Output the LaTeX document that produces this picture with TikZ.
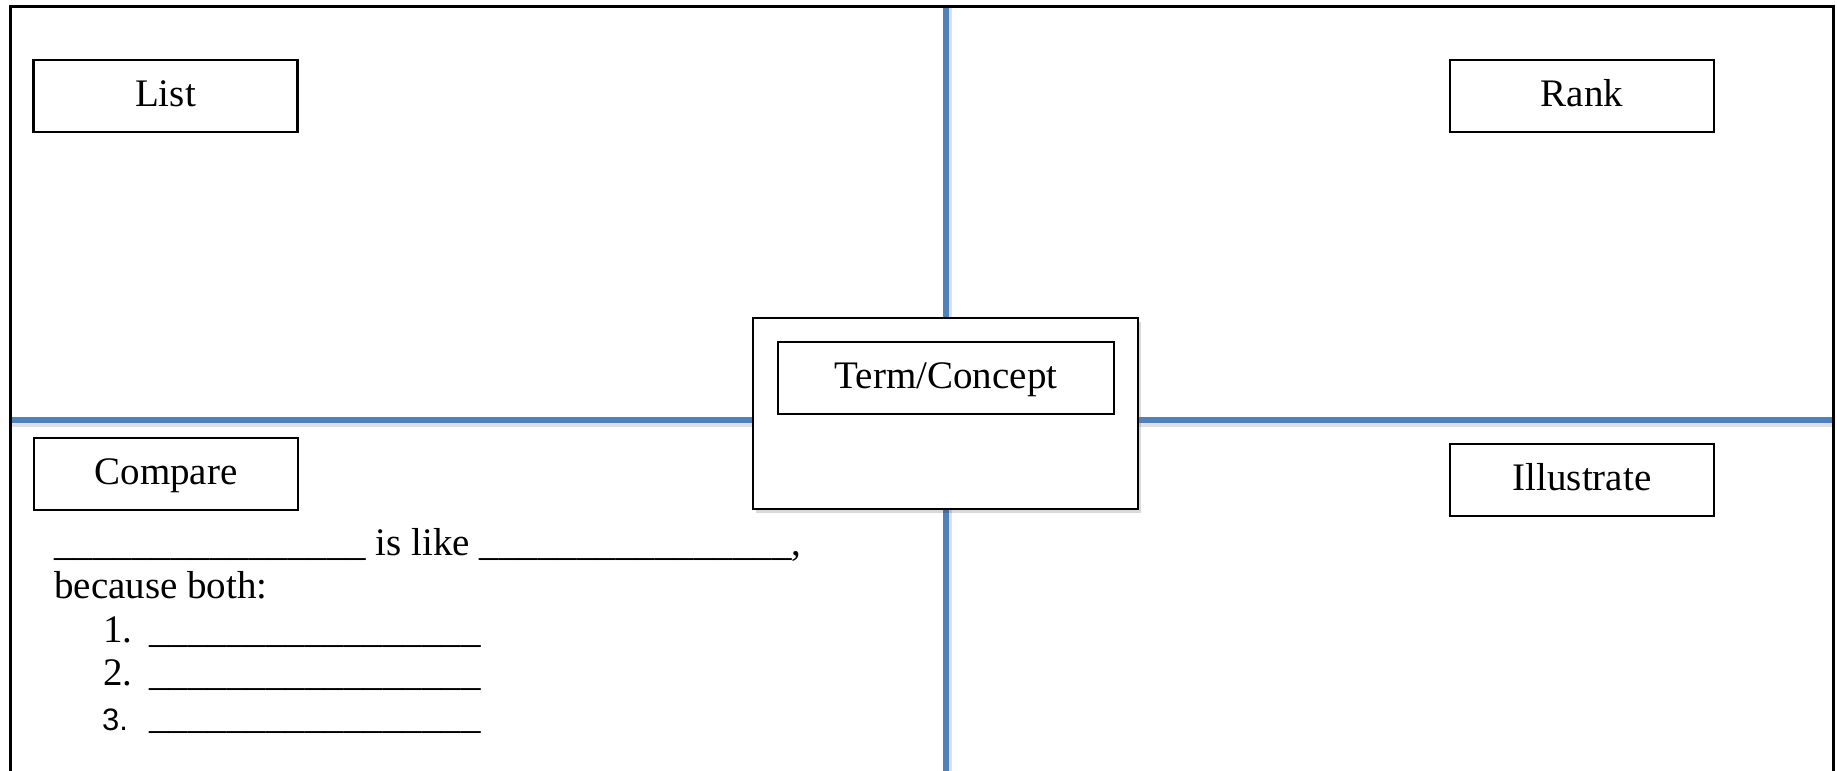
\documentclass[tikz,border=0pt]{standalone}
\usepackage{fontspec}
\setmainfont{Liberation Serif}
\newfontfamily\numsans{Liberation Sans}
\usetikzlibrary{shadows}
\definecolor{divblue}{RGB}{79,129,189}
\newcommand\ublankA{\_\_\_\_\_\_\_\_\_\_\_\_\_\_\_\_}
\newcommand\ublankB{\_\_\_\_\_\_\_\_\_\_\_\_\_\_\_\_\_}
\begin{document}
\begin{tikzpicture}[x=1pt,y=-1pt,
  frameline/.style={line width=3pt, draw=black},
  divider/.style={line width=6pt, draw=divblue},
  divshadow/.style={line width=6pt, draw=black, opacity=0.12},
  labelbox/.style={draw, line width=2.5pt, fill=white, minimum width=264pt, minimum height=72pt,
    inner sep=0pt, text height=26pt, text depth=6pt, font=\fontsize{39}{44}\selectfont},
  bodytext/.style={anchor=base west, inner sep=0pt, font=\fontsize{39}{44}\selectfont}]
\useasboundingbox (0,0) rectangle (1837,771);
\fill[white] (0,0) rectangle (1837,771);
% frame
\coordinate (fbl) at (10,790);
\coordinate (ftl) at (10,6);
\coordinate (ftr) at (1833,6);
\coordinate (fbr) at (1833,790);
% dividers
\coordinate (vtop) at (946,8);
\coordinate (vbot) at (946,790);
\coordinate (hl) at (11,420);
\coordinate (hr) at (1832,420);
\draw[divshadow] ([xshift=3pt]vtop) -- ([xshift=3pt]vbot);
\draw[divider] (vtop) -- (vbot);
% center box
\node[draw, line width=2.5pt, fill=white, minimum width=385pt, minimum height=191pt,
  drop shadow={shadow xshift=3pt, shadow yshift=-4pt, fill=black, opacity=0.15}] (core) at (945.5,413.5) {};
\draw[divshadow] ([yshift=-4pt]hl) -- ([yshift=-4pt]hl -| core.west);
\draw[divshadow] ([yshift=-4pt]core.east |- hr) -- ([yshift=-4pt]hr);
\draw[divider] (hl) -- (hl -| core.west);
\draw[divider] (core.east |- hr) -- (hr);
\draw[frameline] (fbl) -- (ftl) -- (ftr) -- (fbr);
% label boxes
\node[labelbox, minimum width=336pt] (term) at (946,378) {Term/Concept};
\node[labelbox] (list) at (165.5,96) {List};
\node[labelbox] (rank) at (1582,96) {Rank};
\node[labelbox] (compare) at (166,474) {Compare};
\node[labelbox] (illus) at (1582,480) {Illustrate};
% compare text
\node[bodytext] (like) at (54,555) {\ublankA{} is like \ublankA,};
\node[bodytext] (because) at (54,598) {because both:};
\node[bodytext] (n1) at (103,642) {1.};
\node[bodytext] (b1) at (149,642) {\ublankB};
\node[bodytext] (n2) at (103,685) {2.};
\node[bodytext] (b2) at (149,685) {\ublankB};
\node[bodytext, font={\numsans\fontsize{31}{36}\selectfont}] (n3) at (102,730) {3.};
\node[bodytext] (b3) at (149,728) {\ublankB};
\end{tikzpicture}
\end{document}
